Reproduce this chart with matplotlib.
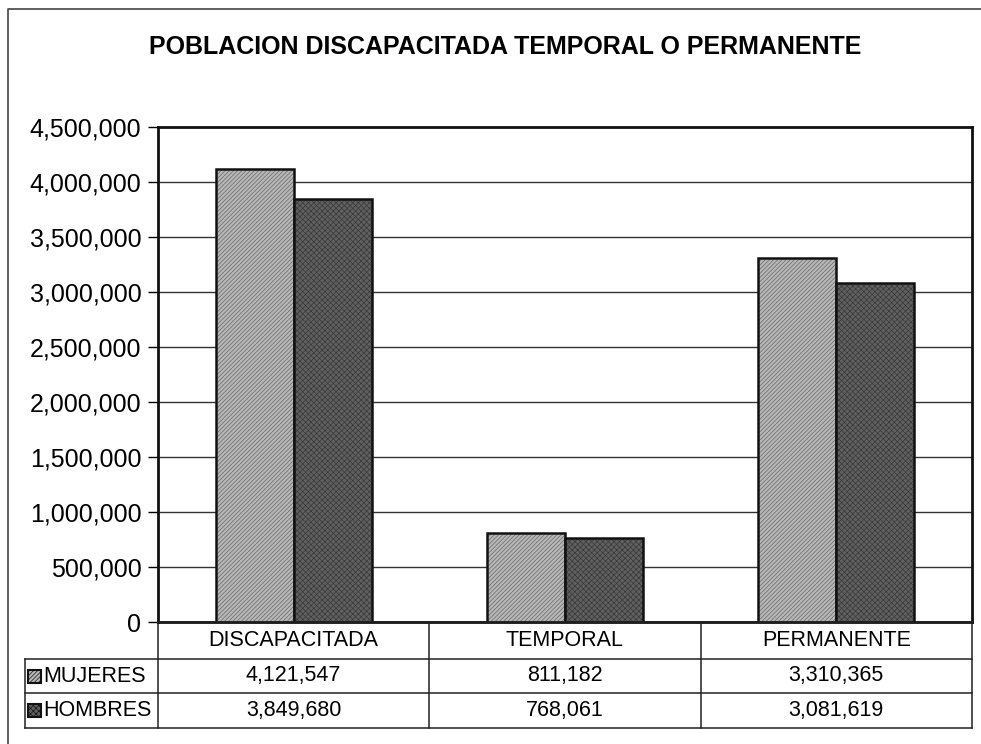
import matplotlib
matplotlib.use("Agg")
import matplotlib.pyplot as plt
import numpy as np
from matplotlib.patches import Rectangle
from matplotlib.lines import Line2D
from matplotlib.ticker import FuncFormatter

categories = ["DISCAPACITADA", "TEMPORAL", "PERMANENTE"]
series_names = ["MUJERES", "HOMBRES"]
mujeres = [4121547, 811182, 3310365]
hombres = [3849680, 768061, 3081619]
y_ticks = [0, 500000, 1000000, 1500000, 2000000, 2500000,
           3000000, 3500000, 4000000, 4500000]

plt.rcParams['font.family'] = ['Liberation Sans', 'DejaVu Sans']
plt.rcParams['hatch.linewidth'] = 0.5

W, H = 981, 744
fig = plt.figure(figsize=(W / 100, H / 100), dpi=100)

# plot area in pixel coords of the reference
px_l, px_r, px_t, px_b = 158, 972, 127, 622
ax = fig.add_axes([px_l / W, 1 - px_b / H, (px_r - px_l) / W, (px_b - px_t) / H])

x = np.arange(len(categories))
bw = 0.287
styles = [
    dict(facecolor="#b8b8b8", hatch="////////", hcolor=(0.4, 0.4, 0.4, 1)),
    dict(facecolor="#606060", hatch="xxxxxx", hcolor=(0.22, 0.22, 0.22, 1)),
]
for i, (vals, st) in enumerate(zip([mujeres, hombres], styles)):
    bars = ax.bar(x + (i - 0.5) * bw, vals, width=bw, align="center",
                  facecolor=st["facecolor"], edgecolor="#111111",
                  linewidth=1.8, zorder=3)
    for b in bars:
        b.set_hatch(st["hatch"])
        b._hatch_color = st["hcolor"]

ax.set_xlim(-0.5, len(categories) - 0.5)
ax.set_ylim(0, 4500000)
ax.set_yticks(y_ticks)
ax.yaxis.set_major_formatter(FuncFormatter(lambda v, p: f"{int(v):,}"))
ax.tick_params(axis="y", labelsize=18, length=7, width=1, pad=5)
ax.set_xticks([])
ax.grid(axis="y", color="#333333", linewidth=1, zorder=0)
for s in ax.spines.values():
    s.set_linewidth(2)
    s.set_color("#111111")

fig.text(505 / W, 1 - 47 / H, "POBLACION DISCAPACITADA TEMPORAL O PERMANENTE",
         ha="center", va="center", fontsize=18, fontweight="bold")

# data table under the chart
tbl_l = 25
row_y = [622, 659, 693, 728]
col_x = [px_l + (px_r - px_l) * k / len(categories) for k in range(len(categories) + 1)]

def fx(px):
    return px / W

def fy(py):
    return 1 - py / H

lines = []
lines.append(((px_l, row_y[0]), (px_r, row_y[0])))
lines.append(((tbl_l, row_y[1]), (px_r, row_y[1])))
lines.append(((tbl_l, row_y[2]), (px_r, row_y[2])))
lines.append(((tbl_l, row_y[3]), (px_r, row_y[3])))
for cx in col_x:
    lines.append(((cx, row_y[0]), (cx, row_y[3])))
lines.append(((tbl_l, row_y[1]), (tbl_l, row_y[3])))
for (x0, y0), (x1, y1) in lines:
    fig.add_artist(Line2D([fx(x0), fx(x1)], [fy(y0), fy(y1)],
                          color="#222222", linewidth=1.1))

for k, cat in enumerate(categories):
    cx = (col_x[k] + col_x[k + 1]) / 2
    fig.text(fx(cx), fy((row_y[0] + row_y[1]) / 2), cat,
             ha="center", va="center", fontsize=15.5)
    for r, vals in enumerate([mujeres, hombres]):
        fig.text(fx(cx), fy((row_y[r + 1] + row_y[r + 2]) / 2), f"{vals[k]:,}",
                 ha="center", va="center", fontsize=15.5)

for r, name in enumerate(series_names):
    cy = (row_y[r + 1] + row_y[r + 2]) / 2
    sq = 13
    rect = Rectangle((fx(28), fy(cy + sq / 2)), sq / W, sq / H,
                     transform=fig.transFigure, facecolor=styles[r]["facecolor"],
                     edgecolor="#111111", linewidth=1.5, hatch=styles[r]["hatch"])
    fig.add_artist(rect)
    fig.text(fx(43), fy(cy), name, ha="left", va="center", fontsize=15.5)

# outer chart frame (left and top edges visible)
fig.add_artist(Line2D([fx(8), fx(8), fx(981)], [0, fy(9), fy(9)],
                      color="#444444", linewidth=1.2))

fig.savefig("out.png", dpi=100)
